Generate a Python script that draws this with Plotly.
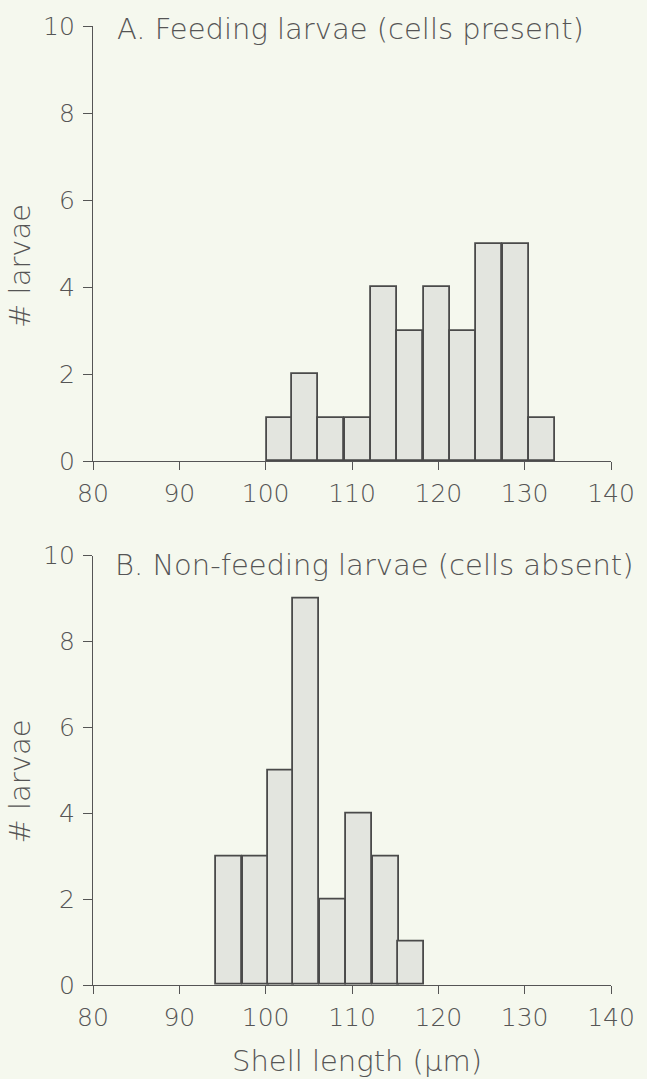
import plotly.graph_objects as go

# ---- data ----
feeding_centers = [101.7, 104.6, 107.6, 110.7, 113.7, 116.7, 119.8, 122.9, 125.9, 129.0, 132.0]
feeding_counts = [1, 2, 1, 1, 4, 3, 4, 3, 5, 5, 1]
nonfeeding_centers = [95.8, 98.9, 101.8, 104.7, 107.75, 110.85, 113.9, 116.8]
nonfeeding_counts = [3, 3, 5, 9, 2, 4, 3, 1]
bin_width = 3.03
x_ticks = [80, 90, 100, 110, 120, 130, 140]
y_ticks = [0, 2, 4, 6, 8, 10]
title_a = "A. Feeding larvae (cells present)"
title_b = "B. Non-feeding larvae (cells absent)"
x_title = "Shell length (\u03bcm)"
y_title = "# larvae"

BG = "#f5f8ee"
INK = "#555555"
LINE = "#4a4a4a"
FILL = "#e3e5df"
FONT = "DejaVu Sans"
WEIGHT = 200

fig = go.Figure()
fig.add_trace(go.Bar(x=feeding_centers, y=feeding_counts, width=bin_width,
                     marker=dict(color=FILL, line=dict(color=LINE, width=1.8)),
                     xaxis="x", yaxis="y", showlegend=False))
fig.add_trace(go.Bar(x=nonfeeding_centers, y=nonfeeding_counts, width=bin_width,
                     marker=dict(color=FILL, line=dict(color=LINE, width=1.8)),
                     xaxis="x2", yaxis="y2", showlegend=False))

W, H = 647, 1079
ml, mr, mt, mb = 93, 27, 18, 94
ph = H - mt - mb

def dom(top_px, bot_px):
    return [1 - (bot_px - mt) / ph, 1 - (top_px - mt) / ph]

tick_font = dict(family=FONT, size=25, color=INK, weight=WEIGHT)
xax = dict(range=[80, 140], tickvals=x_ticks, ticks="outside", ticklen=8, tickwidth=1.2,
           tickcolor=INK, showline=True, linecolor=INK, linewidth=1.2, showgrid=False,
           zeroline=False, tickfont=tick_font, ticklabelstandoff=2, fixedrange=True)
yax = dict(range=[0, 10], tickvals=y_ticks, ticks="outside", ticklen=9, tickwidth=1.2,
           tickcolor=INK, showline=True, linecolor=INK, linewidth=1.2, showgrid=False,
           zeroline=False, tickfont=tick_font, ticklabelstandoff=3, fixedrange=True)

fig.update_layout(
    width=W, height=H,
    margin=dict(l=ml, r=mr, t=mt, b=mb),
    paper_bgcolor=BG, plot_bgcolor=BG,
    bargap=0,
    xaxis=dict(**xax, anchor="y"),
    yaxis=dict(**yax, anchor="x", domain=dom(18, 457)),
    xaxis2=dict(**xax, anchor="y2"),
    yaxis2=dict(**yax, anchor="x2", domain=dom(552, 985)),
    font=dict(family=FONT, color=INK),
)

ann_font = dict(family=FONT, size=29, color=INK, weight=WEIGHT)
fig.add_annotation(text=title_a, x=82.6, y=9.93, xref="x", yref="y",
                   xanchor="left", yanchor="middle", showarrow=False, font=ann_font)
fig.add_annotation(text=title_b, x=82.3, y=9.77, xref="x2", yref="y2",
                   xanchor="left", yanchor="middle", showarrow=False, font=ann_font)
fig.add_annotation(text=y_title, x=-0.14, y=4.5, xref="paper", yref="y",
                   textangle=-90, xanchor="center", yanchor="middle", showarrow=False, font=ann_font)
fig.add_annotation(text=y_title, x=-0.14, y=4.75, xref="paper", yref="y2",
                   textangle=-90, xanchor="center", yanchor="middle", showarrow=False, font=ann_font)
fig.add_annotation(text=x_title, x=0.51, y=-(1062 - 985) / ph, xref="paper", yref="paper",
                   xanchor="center", yanchor="middle", showarrow=False, font=ann_font)

fig.write_html("out.html", config={"displayModeBar": False},
               post_script="document.body.style.margin='0';document.body.style.overflow='hidden';")
